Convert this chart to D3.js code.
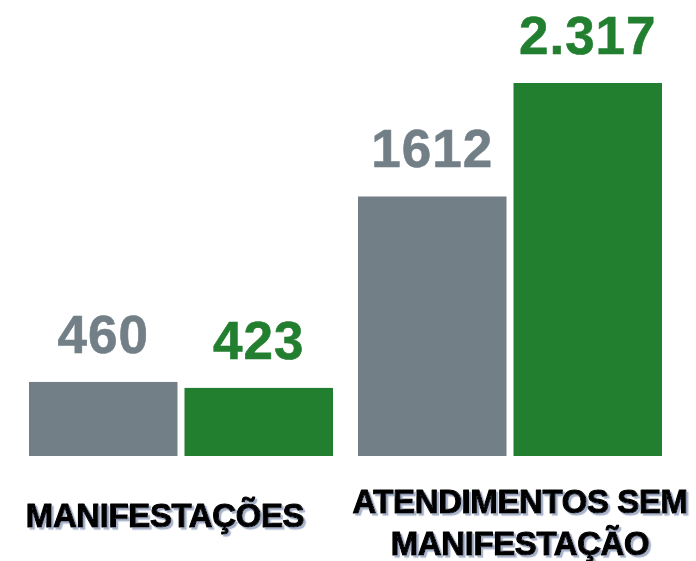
<!DOCTYPE html>
<html><head><meta charset="utf-8">
<script src="https://cdn.jsdelivr.net/npm/d3@7"></script>
<style>html,body{margin:0;padding:0;background:#fff;}svg{display:block;}</style>
</head><body>
<svg id="chart" width="696" height="561"></svg>
<script>
const categories = ["MANIFESTAÇÕES", "ATENDIMENTOS SEM MANIFESTAÇÃO"];
const categoryLines = [["MANIFESTAÇÕES"], ["ATENDIMENTOS SEM", "MANIFESTAÇÃO"]];
const seriesNames = ["Anterior", "Atual"];
const seriesA = [460, 1612];
const seriesB = [423, 2317];
const valueLabelsA = ["460", "1612"];
const valueLabelsB = ["423", "2.317"];
const colors = ["#727f87", "#237f30"];

const svg = d3.select("#chart");
const defs = svg.append("defs");
const f = defs.append("filter").attr("id", "shadow")
  .attr("x", "-5%").attr("y", "-20%").attr("width", "115%").attr("height", "150%");
f.append("feDropShadow").attr("dx", 2.2).attr("dy", 2.2).attr("stdDeviation", 0.3)
  .attr("flood-color", "#a8b3cb").attr("flood-opacity", 1);

const baseline = 456;
const x0 = d3.scaleBand().domain(categories).range([29, 662]).paddingInner(0.076).paddingOuter(0);
const x1 = d3.scaleBand().domain(seriesNames).range([0, x0.bandwidth()]).paddingInner(0.045).paddingOuter(0);
const y = d3.scaleLinear().domain([0, 2317]).range([baseline, 83]);

const rows = categories.map((c, i) => ({
  cat: c,
  vals: [
    {s: seriesNames[0], v: seriesA[i], label: valueLabelsA[i], color: colors[0]},
    {s: seriesNames[1], v: seriesB[i], label: valueLabelsB[i], color: colors[1]}
  ]
}));

const g = svg.selectAll("g.grp").data(rows).join("g")
  .attr("class", "grp")
  .attr("transform", d => `translate(${x0(d.cat)},0)`);

g.selectAll("rect").data(d => d.vals).join("rect")
  .attr("x", d => x1(d.s))
  .attr("y", d => y(d.v))
  .attr("width", x1.bandwidth())
  .attr("height", d => baseline - y(d.v))
  .attr("fill", d => d.color);

g.selectAll("text.val").data(d => d.vals).join("text")
  .attr("class", "val")
  .attr("x", d => x1(d.s) + x1.bandwidth() / 2)
  .attr("y", d => y(d.v) - 29)
  .attr("text-anchor", "middle")
  .attr("font-family", "'Liberation Sans', Arial, sans-serif")
  .attr("font-weight", "bold")
  .attr("font-size", 53)
  .attr("letter-spacing", 1)
  .attr("fill", d => d.color)
  .attr("stroke", d => d.color)
  .attr("stroke-width", 0.6)
  .text(d => d.label);

// category labels with shadow
const labelDx = [-16, 10];
const labelY = [[527], [513, 555]];
categoryLines.forEach((lines, i) => {
  const cx = x0(categories[i]) + x0.bandwidth() / 2 + labelDx[i];
  const t = svg.append("text")
    .attr("text-anchor", "middle")
    .attr("font-family", "'Liberation Sans', Arial, sans-serif")
    .attr("font-weight", "bold")
    .attr("font-size", 33)
    .attr("letter-spacing", -0.4)
    .attr("fill", "#000")
    .attr("stroke", "#000")
    .attr("stroke-width", 1.1)
    .attr("stroke-linejoin", "round")
    .attr("filter", "url(#shadow)");
  lines.forEach((ln, j) => {
    t.append("tspan").attr("x", cx).attr("y", labelY[i][j]).text(ln);
  });
});
</script>
</body></html>
